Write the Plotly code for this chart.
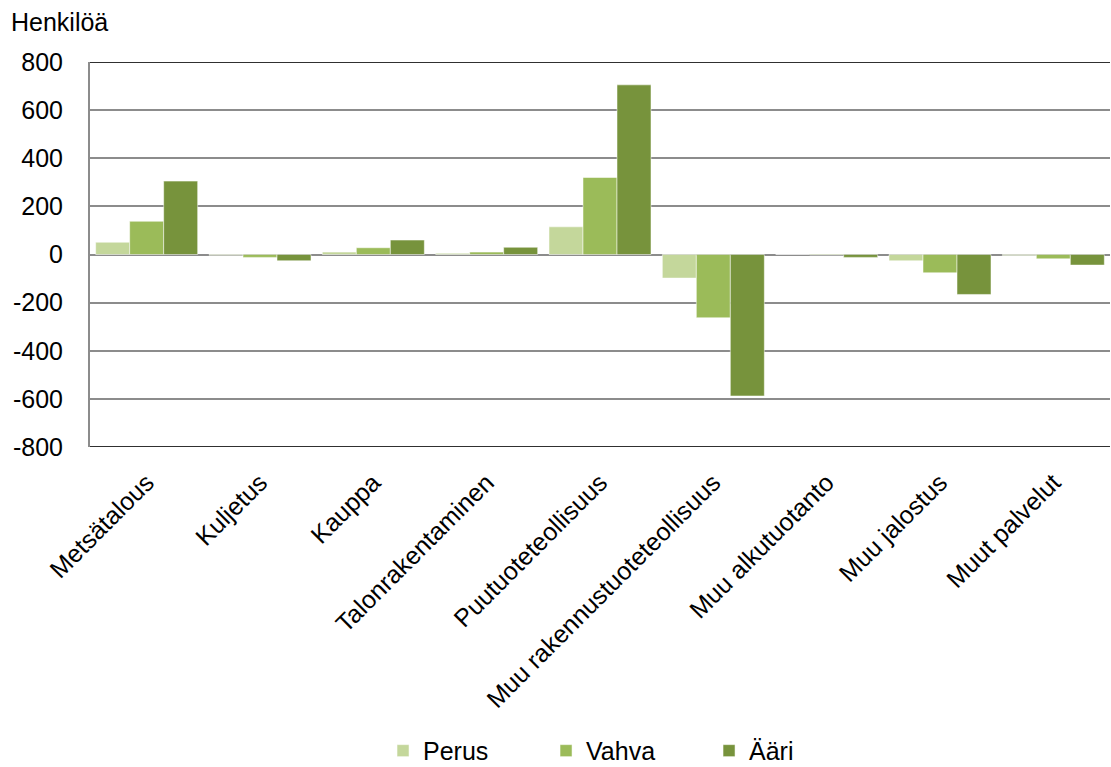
import plotly.graph_objects as go

categories = ["Metsätalous", "Kuljetus", "Kauppa", "Talonrakentaminen", "Puutuoteteollisuus",
              "Muu rakennustuoteteollisuus", "Muu alkutuotanto", "Muu jalostus", "Muut palvelut"]
perus = [51, -3, 10, 5, 115, -98, 0, -26, -4]
vahva = [138, -12, 28, 10, 320, -263, -2, -76, -18]
aari = [305, -26, 60, 30, 705, -588, -12, -166, -44]
yticks = [-800, -600, -400, -200, 0, 200, 400, 600, 800]

colors = {"Perus": "#c4d79b", "Vahva": "#9bbb59", "Ääri": "#77933c"}
font = "Liberation Sans, Arial, sans-serif"

fig = go.Figure()
for name, vals in [("Perus", perus), ("Vahva", vahva), ("Ääri", aari)]:
    fig.add_trace(go.Bar(x=categories, y=vals, name=name, marker=dict(color=colors[name],
                  line=dict(color="rgba(255,255,255,0.5)", width=1))))

fig.update_layout(
    width=1111, height=767,
    margin=dict(l=90, r=1, t=62, b=320, autoexpand=False),
    paper_bgcolor="white", plot_bgcolor="white",
    font=dict(family=font, size=25, color="black"),
    barmode="group", bargap=0.1, bargroupgap=0,
    showlegend=True,
    legend=dict(orientation="h", x=0.527, xanchor="center", yref="container", y=0.021,
                yanchor="middle",
                font=dict(size=25), entrywidth=118, entrywidthmode="pixels", traceorder="normal"),
    xaxis=dict(tickangle=-45, showgrid=False, showline=False, ticks="outside", ticklen=10,
               tickcolor="rgba(0,0,0,0)", tickfont=dict(size=25), automargin=False),
    yaxis=dict(range=[-800, 800], tickvals=yticks, ticktext=[str(v) for v in yticks],
               showgrid=True, gridcolor="#8c8c8c", gridwidth=1.5,
               zeroline=True, zerolinecolor="#8c8c8c", zerolinewidth=2,
               showline=True, linecolor="#8c8c8c", linewidth=2, ticks="", ticklen=0,
               ticklabelstandoff=20, tickfont=dict(size=25), automargin=False),
    annotations=[dict(text="Henkilöä", xref="paper", yref="paper", x=-0.079, y=1 + 24 / 385,
                      xanchor="left", yanchor="bottom", showarrow=False,
                      font=dict(size=25, family=font))],
    shapes=[dict(type="line", xref="paper", yref="y", x0=0, x1=1, y0=800, y1=800,
                 line=dict(color="#303030", width=2)),
            dict(type="line", xref="paper", yref="y", x0=0, x1=1, y0=-800, y1=-800,
                 line=dict(color="#303030", width=2))],
)
fig.write_html("out.html")
